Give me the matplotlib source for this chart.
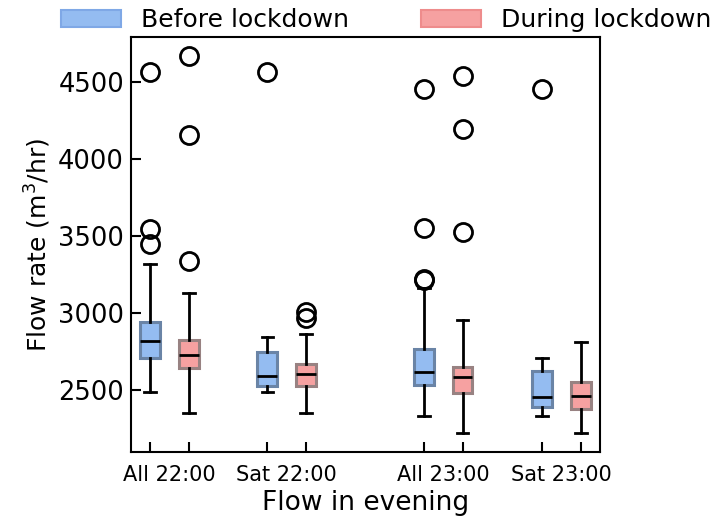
import matplotlib
matplotlib.use("Agg")
import matplotlib.pyplot as plt
from matplotlib.patches import Patch

groups = ["All 22:00", "Sat 22:00", "All 23:00", "Sat 23:00"]
series = ["Before lockdown", "During lockdown"]

# per box: whisker low, q1, median, q3, whisker high, outliers
before_whislo = [2489, 2489, 2329, 2329]
before_q1 = [2710, 2528, 2535, 2387]
before_med = [2820, 2589, 2615, 2455]
before_q3 = [2944, 2749, 2764, 2623]
before_whishi = [3318, 2846, 3160, 2710]
before_fliers = [[4562, 3548, 3450], [4562], [4455, 3555, 3222, 3212], [4452]]

during_whislo = [2351, 2351, 2219, 2219]
during_q1 = [2645, 2528, 2481, 2375]
during_med = [2727, 2602, 2587, 2461]
during_q3 = [2825, 2669, 2652, 2554]
during_whishi = [3128, 2866, 2952, 2814]
during_fliers = [[4668, 4158, 3340], [3005, 2968], [4540, 4192, 3525], []]

group_pos = [0.165, 1.165, 2.495, 3.5]
offset = 0.165

fig = plt.figure(figsize=(7.18, 5.27), dpi=100)
ax = fig.add_axes([0.1825, 0.142, 0.8357 - 0.1825, 0.93 - 0.142])

face_colors = ["#94bcf1", "#f6a1a1"]
edge_colors = ["#6a84a6", "#988282"]

def make_stats(lo, q1, med, q3, hi, fl):
    return [dict(whislo=a, q1=b, med=c, q3=d, whishi=e, fliers=f)
            for a, b, c, d, e, f in zip(lo, q1, med, q3, hi, fl)]

stats_b = make_stats(before_whislo, before_q1, before_med, before_q3, before_whishi, before_fliers)
stats_d = make_stats(during_whislo, during_q1, during_med, during_q3, during_whishi, during_fliers)

box_pos = []
for i, (st, sgn) in enumerate([(stats_b, -1), (stats_d, 1)]):
    pos = [g + sgn * offset for g in group_pos]
    box_pos += pos
    ax.bxp(st, positions=pos, widths=0.17, patch_artist=True, manage_ticks=False,
           boxprops=dict(facecolor=face_colors[i], edgecolor=edge_colors[i], linewidth=2.2),
           medianprops=dict(color="black", linewidth=2),
           whiskerprops=dict(color="black", linewidth=2),
           capprops=dict(color="black", linewidth=2),
           capwidths=0.1,
           flierprops=dict(marker="o", markersize=13, markerfacecolor="none",
                           markeredgecolor="black", markeredgewidth=2))

ax.set_xlim(-0.16, 3.83)
ax.set_ylim(2097, 4792)
ax.set_yticks([2500, 3000, 3500, 4000, 4500])
ax.set_xticks(sorted(box_pos))
ax.set_xticklabels([])
ax.set_xticks(group_pos, minor=True)
ax.set_xticklabels(groups, minor=True, fontsize=15)
ax.tick_params(axis="x", which="major", direction="in", length=7, width=1.5)
ax.tick_params(axis="x", which="minor", length=0, pad=9)
ax.tick_params(axis="y", direction="in", length=7, width=1.5, labelsize=18.5, pad=5)
for s in ax.spines.values():
    s.set_linewidth(1.5)

ax.set_xlabel("Flow in evening", fontsize=19, labelpad=4)
ax.set_ylabel("Flow rate (m$^3$/hr)", fontsize=18)

handles = [Patch(facecolor=face_colors[0], edgecolor="#7fa8e6", linewidth=1.5, label=series[0]),
           Patch(facecolor=face_colors[1], edgecolor="#ee8c8c", linewidth=1.5, label=series[1])]
ax.legend(handles=handles, loc="center", bbox_to_anchor=(0.544, 1.04), ncol=2,
          frameon=False, fontsize=18, handlelength=2.4, columnspacing=2.9,
          borderaxespad=0)

fig.savefig("out.png", dpi=100)
